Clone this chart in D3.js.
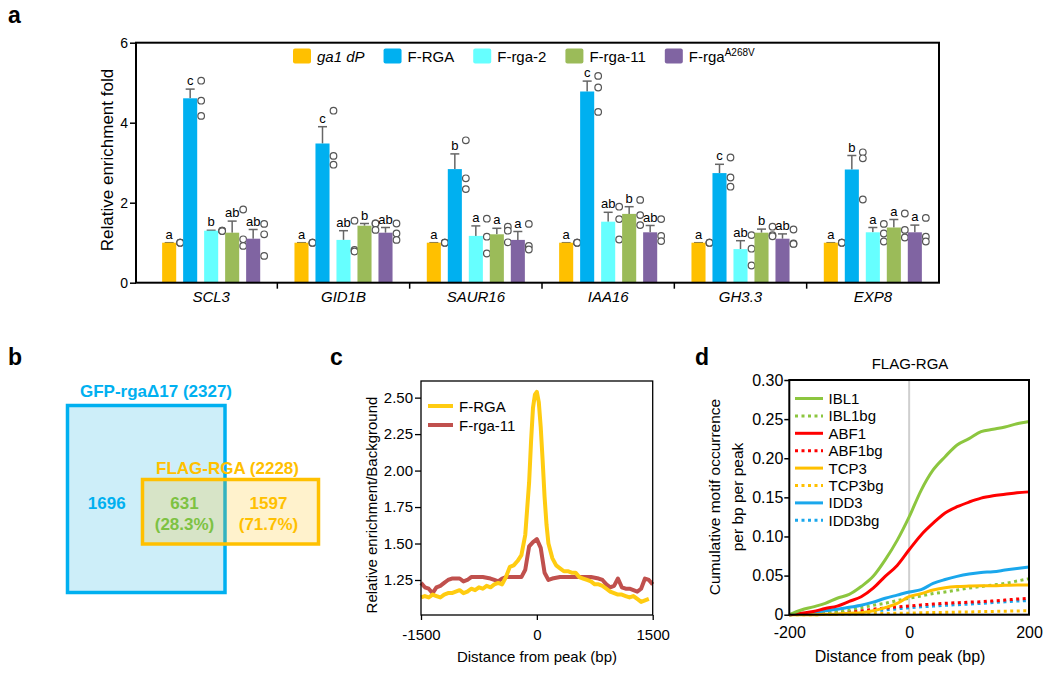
<!DOCTYPE html>
<meta charset="utf-8">
<script src="https://d3js.org/d3.v7.min.js"></script>
<style>
  body { margin: 0; background: #fff; }
  text { font-family: "Liberation Sans", Arial, sans-serif; }
</style>
<body>
<div id="chart"></div>
<script>
// ---------- panel a data ----------
var genes = ["SCL3", "GID1B", "SAUR16", "IAA16", "GH3.3", "EXP8"];
var lines = ["ga1 dP", "F-RGA", "F-rga-2", "F-rga-11", "F-rgaA268V"];
var lineColors = ["#ffc000", "#00b0f0", "#66ffff", "#9bbb59", "#8064a2"];

var meanGa1 = [1, 1, 1, 1, 1, 1];
var seGa1 = [0, 0, 0, 0, 0, 0];
var repGa1 = [[1, 1, 1], [1, 1, 1], [1, 1, 1], [1, 1, 1], [1, 1, 1], [1, 1, 1]];
var letGa1 = ["a", "a", "a", "a", "a", "a"];

var meanRGA = [4.61, 3.48, 2.84, 4.78, 2.74, 2.83];
var seRGA = [0.23, 0.42, 0.38, 0.26, 0.22, 0.35];
var repRGA = [[5.05, 4.55, 4.17], [4.3, 3.17, 2.95], [3.56, 2.61, 2.34], [5.17, 4.88, 4.27], [3.13, 2.63, 2.4], [3.26, 3.11, 2.08]];
var letRGA = ["c", "c", "b", "c", "c", "b"];

var meanRga2 = [1.3, 1.07, 1.17, 1.525, 0.84, 1.26];
var seRga2 = [0.01, 0.23, 0.25, 0.235, 0.21, 0.12];
var repRga2 = [[1.3, 1.3, 1.29], [1.55, 0.82, 0.78], [1.6, 1.15, 0.73], [1.9, 1.59, 1.08], [1.19, 0.85, 0.43], [1.47, 1.23, 1.03]];
var letRga2 = ["b", "ab", "a", "ab", "ab", "a"];

var meanRga11 = [1.25, 1.425, 1.21, 1.72, 1.25, 1.38];
var seRga11 = [0.29, 0.055, 0.15, 0.18, 0.09, 0.2];
var repRga11 = [[1.83, 1.085, 0.92], [1.48, 1.48, 1.32], [1.4, 1.3, 1.01], [2.07, 1.69, 1.44], [1.4, 1.19, 1.16], [1.73, 1.32, 1.13]];
var letRga11 = ["ab", "b", "a", "b", "b", "a"];

var meanA268V = [1.1, 1.25, 1.07, 1.26, 1.1, 1.26];
var seA268V = [0.23, 0.13, 0.21, 0.17, 0.12, 0.18];
var repA268V = [[1.47, 1.21, 0.67], [1.48, 1.23, 1.07], [1.47, 0.92, 0.83], [1.59, 1.17, 1.04], [1.33, 0.98, 0.97], [1.62, 1.15, 1.03]];
var letA268V = ["ab", "ab", "a", "ab", "ab", "a"];

var yTicksA = [0, 2, 4, 6];

// ---------- panel b data ----------
var vennTotals = [2327, 2228];
var vennCounts = [1696, 631, 1597];
var vennPct = ["28.3%", "71.7%"];

// ---------- panel c data ----------
var cBpRGA = [-1500, -1450, -1400, -1350, -1300, -1250, -1200, -1150, -1100, -1050, -1000, -950, -900, -850, -800, -750, -700, -650, -600, -550, -500, -450, -400, -350, -300, -250, -200, -150, -100, -75, -50, -25, 0, 25, 50, 75, 100, 125, 150, 200, 250, 300, 350, 400, 450, 500, 550, 600, 650, 700, 750, 800, 850, 900, 950, 1000, 1050, 1100, 1150, 1200, 1250, 1300, 1350, 1400, 1450];
var cRGA = [1.13, 1.14, 1.13, 1.15, 1.14, 1.13, 1.15, 1.16, 1.16, 1.17, 1.18, 1.16, 1.17, 1.19, 1.18, 1.20, 1.19, 1.21, 1.20, 1.22, 1.23, 1.22, 1.27, 1.34, 1.35, 1.38, 1.42, 1.56, 1.92, 2.20, 2.43, 2.52, 2.54, 2.47, 2.30, 2.07, 1.82, 1.63, 1.50, 1.40, 1.35, 1.33, 1.31, 1.31, 1.30, 1.30, 1.27, 1.26, 1.25, 1.24, 1.22, 1.22, 1.21, 1.19, 1.17, 1.16, 1.15, 1.15, 1.14, 1.13, 1.14, 1.12, 1.10, 1.11, 1.12];
var cBpRga11 = [-1500, -1450, -1400, -1350, -1300, -1250, -1200, -1150, -1100, -1050, -1000, -950, -900, -850, -800, -700, -600, -550, -500, -450, -400, -300, -200, -150, -100, -50, 0, 50, 100, 150, 200, 300, 400, 500, 600, 700, 800, 850, 900, 950, 1000, 1050, 1100, 1150, 1200, 1250, 1300, 1350, 1400, 1450, 1500];
var cRga11 = [1.23, 1.20, 1.19, 1.16, 1.20, 1.21, 1.23, 1.25, 1.26, 1.26, 1.26, 1.24, 1.25, 1.27, 1.27, 1.27, 1.26, 1.25, 1.24, 1.26, 1.27, 1.27, 1.27, 1.32, 1.48, 1.51, 1.53, 1.47, 1.30, 1.25, 1.26, 1.27, 1.27, 1.27, 1.27, 1.27, 1.26, 1.25, 1.22, 1.20, 1.21, 1.26, 1.20, 1.19, 1.19, 1.18, 1.17, 1.19, 1.26, 1.25, 1.22];
var cYTicks = [1.25, 1.5, 1.75, 2.0, 2.25, 2.5];
var cXTicks = [-1500, 0, 1500];

// ---------- panel d data ----------
var dBp = [-200, -180, -160, -140, -120, -100, -80, -60, -40, -20, 0, 20, 40, 60, 80, 100, 120, 140, 160, 180, 200];
var dIBL1 = [0, 0.006, 0.010, 0.0145, 0.021, 0.026, 0.036, 0.049, 0.070, 0.095, 0.125, 0.159, 0.185, 0.202, 0.217, 0.225, 0.234, 0.237, 0.240, 0.244, 0.247];
var dABF1 = [0, 0.002, 0.004, 0.008, 0.011, 0.017, 0.023, 0.034, 0.049, 0.063, 0.083, 0.102, 0.117, 0.130, 0.138, 0.144, 0.149, 0.152, 0.154, 0.156, 0.157];
var dTCP3 = [0, 0, 0, 0.0005, 0.001, 0.002, 0.0026, 0.005, 0.009, 0.0145, 0.023, 0.027, 0.0315, 0.0345, 0.036, 0.0366, 0.037, 0.037, 0.0375, 0.038, 0.038];
var dIDD3 = [0, 0.001, 0.0026, 0.005, 0.007, 0.0095, 0.012, 0.016, 0.021, 0.025, 0.029, 0.032, 0.040, 0.045, 0.049, 0.052, 0.054, 0.055, 0.057, 0.059, 0.061];
var dIBL1bg = [0, 0.001, 0.002, 0.003, 0.004, 0.006, 0.009, 0.012, 0.0145, 0.018, 0.021, 0.024, 0.027, 0.029, 0.0315, 0.034, 0.036, 0.038, 0.040, 0.043, 0.046];
var dABF1bg = [0, 0.0005, 0.001, 0.002, 0.0026, 0.004, 0.005, 0.007, 0.0085, 0.010, 0.011, 0.0125, 0.0136, 0.0145, 0.0153, 0.016, 0.0166, 0.0176, 0.0187, 0.020, 0.021];
var dTCP3bg = [0, 0, 0, 0.0003, 0.0005, 0.001, 0.001, 0.0015, 0.0015, 0.002, 0.002, 0.0025, 0.0028, 0.003, 0.0033, 0.0035, 0.004, 0.0042, 0.0045, 0.0048, 0.005];
var dIDD3bg = [0, 0.0005, 0.001, 0.0015, 0.002, 0.003, 0.004, 0.005, 0.006, 0.0075, 0.009, 0.010, 0.011, 0.012, 0.0128, 0.0135, 0.0145, 0.0155, 0.0165, 0.0175, 0.018];
var dYTicks = [0, 0.05, 0.10, 0.15, 0.20, 0.25, 0.30];
var dXTicks = [-200, 0, 200];

var svg = d3.select("#chart").append("svg")
  .attr("width", 1050).attr("height", 673);

function panelLabel(t, x, y) {
  svg.append("text").attr("x", x).attr("y", y).text(t)
    .attr("font-size", 23).attr("font-weight", "bold");
}
// plain hyphen minus like the original figure
function intFmt(d) { return String(d); }

// =============== panel a ===============
panelLabel("a", 8, 23);

var series = [
  { name: lines[0], mean: meanGa1, se: seGa1, rep: repGa1, let: letGa1 },
  { name: lines[1], mean: meanRGA, se: seRGA, rep: repRGA, let: letRGA },
  { name: lines[2], mean: meanRga2, se: seRga2, rep: repRga2, let: letRga2 },
  { name: lines[3], mean: meanRga11, se: seRga11, rep: repRga11, let: letRga11 },
  { name: lines[4], mean: meanA268V, se: seA268V, rep: repA268V, let: letA268V }
];
var color = d3.scaleOrdinal().domain(lines).range(lineColors);

var ya = d3.scaleLinear().domain([0, 6]).range([282.7, 42.7]);
var xa = d3.scaleBand().domain(genes).range([145, 939]);
var xs = d3.scaleBand().domain(lines).range([-52.5, 52.5]).paddingInner(0.33).paddingOuter(0.165);

var ga = svg.append("g");

// bars, error bars, dots, letters
series.forEach(function (s) {
  var gs = ga.append("g");
  genes.forEach(function (g, i) {
    var cx = xa(g) + xa.bandwidth() / 2 + xs(s.name) + xs.bandwidth() / 2;
    var top = ya(s.mean[i] + s.se[i]);
    // error bar
    gs.append("line").attr("x1", cx).attr("x2", cx)
      .attr("y1", ya(s.mean[i])).attr("y2", top)
      .attr("stroke", "#666").attr("stroke-width", 1.5);
    gs.append("line").attr("x1", cx - 4.5).attr("x2", cx + 4.5)
      .attr("y1", top).attr("y2", top)
      .attr("stroke", "#666").attr("stroke-width", 1.5);
    gs.append("rect")
      .attr("x", cx - xs.bandwidth() / 2)
      .attr("y", ya(s.mean[i]))
      .attr("width", xs.bandwidth())
      .attr("height", ya(0) - ya(s.mean[i]))
      .attr("fill", color(s.name));
    s.rep[i].forEach(function (v) {
      gs.append("circle").attr("cx", cx + 11).attr("cy", ya(v)).attr("r", 3.3)
        .attr("fill", "#fff").attr("stroke", "#555").attr("stroke-width", 1.2);
    });
    gs.append("text").attr("x", cx).attr("y", top - 4)
      .attr("text-anchor", "middle").attr("font-size", 13)
      .text(s.let[i]);
  });
});

// frame + axes
ga.append("rect").attr("x", 136).attr("y", ya(6)).attr("width", 939 - 136)
  .attr("height", ya(0) - ya(6)).attr("fill", "none")
  .attr("stroke", "#000").attr("stroke-width", 2);

var yAxisA = ga.append("g").attr("transform", "translate(136,0)")
  .call(d3.axisLeft(ya).tickValues(yTicksA).tickSize(6).tickPadding(2).tickFormat(intFmt));
yAxisA.select(".domain").remove();
yAxisA.selectAll("line").attr("stroke-width", 1.5);
yAxisA.selectAll("text").attr("font-size", 14).attr("font-family", "Liberation Sans, Arial, sans-serif");

// group separators
ga.selectAll(".sep").data(genes.slice(1)).enter().append("line")
  .attr("x1", function (d) { return xa(d); }).attr("x2", function (d) { return xa(d); })
  .attr("y1", ya(0)).attr("y2", ya(0) + 6).attr("stroke", "#000").attr("stroke-width", 1.5);
ga.selectAll(".gene").data(genes).enter().append("text")
  .attr("x", function (d) { return xa(d) + xa.bandwidth() / 2; })
  .attr("y", 302).attr("text-anchor", "middle")
  .attr("font-size", 15).attr("font-style", "italic").text(function (d) { return d; });

ga.append("text").attr("transform", "translate(113,160) rotate(-90)")
  .attr("text-anchor", "middle").attr("font-size", 17).text("Relative enrichment fold");

// legend
var lgx = 293;
lines.forEach(function (l, i) {
  var lg = ga.append("g");
  lg.append("rect").attr("x", lgx).attr("y", 48.5).attr("width", 18).attr("height", 15)
    .attr("rx", 2).attr("fill", lineColors[i]);
  var t = lg.append("text").attr("x", lgx + 24).attr("y", 61.5).attr("font-size", 15);
  if (i === 0) {
    t.attr("font-style", "italic").text(l);
  } else if (i === 4) {
    t.append("tspan").text("F-rga");
    t.append("tspan").attr("font-size", 10).attr("dy", -6).text("A268V");
  } else {
    t.text(l);
  }
  lgx += 24 + t.node().getComputedTextLength() + 19;
});

// =============== panel b ===============
panelLabel("b", 8, 365);
var gb = svg.append("g");
gb.append("rect").attr("x", 67.5).attr("y", 405.5).attr("width", 157.5).attr("height", 187)
  .attr("fill", "#cdeef9").attr("stroke", "#00b0f0").attr("stroke-width", 3.5);
gb.append("rect").attr("x", 142.5).attr("y", 479.5).attr("width", 176).attr("height", 64.5)
  .attr("fill", "#ffc000").attr("fill-opacity", 0.2)
  .attr("stroke", "#ffc000").attr("stroke-width", 3.5);
gb.append("text").attr("x", 156).attr("y", 397).attr("text-anchor", "middle")
  .attr("font-size", 17).attr("font-weight", "bold").attr("fill", "#00b0f0")
  .text("GFP-rga\u039417 (" + vennTotals[0] + ")");
gb.append("text").attr("x", 227.5).attr("y", 474).attr("text-anchor", "middle")
  .attr("font-size", 17).attr("font-weight", "bold").attr("fill", "#ffc000")
  .text("FLAG-RGA (" + vennTotals[1] + ")");
gb.append("text").attr("x", 106.7).attr("y", 509).attr("text-anchor", "middle")
  .attr("font-size", 17).attr("font-weight", "bold").attr("fill", "#00b0f0").text(vennCounts[0]);
gb.append("text").attr("x", 184.5).attr("y", 509).attr("text-anchor", "middle")
  .attr("font-size", 17).attr("font-weight", "bold").attr("fill", "#7dc242").text(vennCounts[1]);
gb.append("text").attr("x", 184.5).attr("y", 530).attr("text-anchor", "middle")
  .attr("font-size", 17).attr("font-weight", "bold").attr("fill", "#7dc242").text("(" + vennPct[0] + ")");
gb.append("text").attr("x", 268.5).attr("y", 509).attr("text-anchor", "middle")
  .attr("font-size", 17).attr("font-weight", "bold").attr("fill", "#ffc000").text(vennCounts[2]);
gb.append("text").attr("x", 268.5).attr("y", 530).attr("text-anchor", "middle")
  .attr("font-size", 17).attr("font-weight", "bold").attr("fill", "#ffc000").text("(" + vennPct[1] + ")");

// =============== panel c ===============
panelLabel("c", 330, 365);
var gc = svg.append("g");
var xc = d3.scaleLinear().domain([-1500, 1500]).range([421, 652.7]);
var yc = d3.scaleLinear().domain([1.01, 2.614]).range([615, 381]);

var lineC = d3.line().x(function (d) { return xc(d[0]); }).y(function (d) { return yc(d[1]); });
gc.append("path").datum(d3.zip(cBpRga11, cRga11)).attr("d", lineC)
  .attr("fill", "none").attr("stroke", "#c0504d").attr("stroke-width", 4).attr("stroke-linejoin", "round");
gc.append("path").datum(d3.zip(cBpRGA, cRGA)).attr("d", lineC)
  .attr("fill", "none").attr("stroke", "#ffcc11").attr("stroke-width", 4).attr("stroke-linejoin", "round");

gc.append("rect").attr("x", 421).attr("y", 381).attr("width", 652.7 - 421).attr("height", 615 - 381)
  .attr("fill", "none").attr("stroke", "#000").attr("stroke-width", 1.3);
var yAxisC = gc.append("g").attr("transform", "translate(421,0)")
  .call(d3.axisLeft(yc).tickValues(cYTicks).tickSize(6).tickPadding(2).tickFormat(d3.format(".2f")));
var xAxisC = gc.append("g").attr("transform", "translate(0,615)")
  .call(d3.axisBottom(xc).tickValues(cXTicks).tickSize(5).tickPadding(9).tickFormat(intFmt));
[yAxisC, xAxisC].forEach(function (a) {
  a.select(".domain").remove();
  a.selectAll("line").attr("stroke-width", 1.3);
  a.selectAll("text").attr("font-size", 15).attr("font-family", "Liberation Sans, Arial, sans-serif");
});
gc.append("text").attr("x", 537).attr("y", 662).attr("text-anchor", "middle")
  .attr("font-size", 15).text("Distance from peak (bp)");
gc.append("text").attr("transform", "translate(377,505) rotate(-90)")
  .attr("text-anchor", "middle").attr("font-size", 15).text("Relative enrichment/Background");
[["F-RGA", "#ffcc11", 406], ["F-rga-11", "#c0504d", 425]].forEach(function (d) {
  gc.append("line").attr("x1", 428).attr("x2", 453).attr("y1", d[2]).attr("y2", d[2])
    .attr("stroke", d[1]).attr("stroke-width", 4);
  gc.append("text").attr("x", 459).attr("y", d[2] + 5.5).attr("font-size", 15).text(d[0]);
});

// =============== panel d ===============
panelLabel("d", 695, 365);
var gd = svg.append("g");
var xd = d3.scaleLinear().domain([-200, 200]).range([789.3, 1029]);
var yd = d3.scaleLinear().domain([0, 0.30]).range([614.7, 380]);

gd.append("line").attr("x1", xd(0)).attr("x2", xd(0)).attr("y1", yd(0.3)).attr("y2", yd(0))
  .attr("stroke", "#cfcfcf").attr("stroke-width", 2);

var dSeries = [
  { name: "IBL1", v: dIBL1, c: "#8cc63f", dot: false },
  { name: "IBL1bg", v: dIBL1bg, c: "#8cc63f", dot: true },
  { name: "ABF1", v: dABF1, c: "#ff0000", dot: false },
  { name: "ABF1bg", v: dABF1bg, c: "#ff0000", dot: true },
  { name: "TCP3", v: dTCP3, c: "#ffc000", dot: false },
  { name: "TCP3bg", v: dTCP3bg, c: "#ffc000", dot: true },
  { name: "IDD3", v: dIDD3, c: "#1aa7ec", dot: false },
  { name: "IDD3bg", v: dIDD3bg, c: "#1aa7ec", dot: true }
];
var lineD = d3.line().x(function (d) { return xd(d[0]); }).y(function (d) { return yd(d[1]); })
  .curve(d3.curveMonotoneX);
var drawOrder = [7, 5, 3, 1, 6, 4, 2, 0];
drawOrder.forEach(function (k) {
  var s = dSeries[k];
  gd.append("path").datum(d3.zip(dBp, s.v)).attr("d", lineD)
    .attr("fill", "none").attr("stroke", s.c).attr("stroke-width", 3)
    .attr("stroke-dasharray", s.dot ? "3,3.5" : null);
});

gd.append("rect").attr("x", 789.3).attr("y", 380).attr("width", 1029 - 789.3).attr("height", 614.7 - 380)
  .attr("fill", "none").attr("stroke", "#000").attr("stroke-width", 2);
var yAxisD = gd.append("g").attr("transform", "translate(789.3,0)")
  .call(d3.axisLeft(yd).tickValues(dYTicks).tickSize(5).tickPadding(1)
    .tickFormat(function (d) { return d === 0 ? "0" : d3.format(".2f")(d); }));
var xAxisD = gd.append("g").attr("transform", "translate(0,614.7)")
  .call(d3.axisBottom(xd).tickValues(dXTicks).tickSize(0).tickPadding(12).tickFormat(intFmt));
[yAxisD, xAxisD].forEach(function (a) {
  a.select(".domain").remove();
  a.selectAll("line").attr("stroke-width", 1.5);
  a.selectAll("text").attr("font-size", 16).attr("font-family", "Liberation Sans, Arial, sans-serif");
});
gd.append("text").attr("x", 910).attr("y", 369).attr("text-anchor", "middle")
  .attr("font-size", 15).text("FLAG-RGA");
gd.append("text").attr("x", 900).attr("y", 662).attr("text-anchor", "middle")
  .attr("font-size", 16).text("Distance from peak (bp)");
gd.append("text").attr("transform", "translate(720,497) rotate(-90)")
  .attr("text-anchor", "middle").attr("font-size", 15.5).text("Cumulative motif occurrence");
gd.append("text").attr("transform", "translate(743,497) rotate(-90)")
  .attr("text-anchor", "middle").attr("font-size", 15.5).text("per bp per peak");

dSeries.forEach(function (s, i) {
  var yy = 398.5 + i * 17.4;
  gd.append("line").attr("x1", 795).attr("x2", 823).attr("y1", yy).attr("y2", yy)
    .attr("stroke", s.c).attr("stroke-width", 3)
    .attr("stroke-dasharray", s.dot ? "3,3.5" : null);
  gd.append("text").attr("x", 828.5).attr("y", yy + 5.5).attr("font-size", 15).text(s.name);
});
</script>
</body>
